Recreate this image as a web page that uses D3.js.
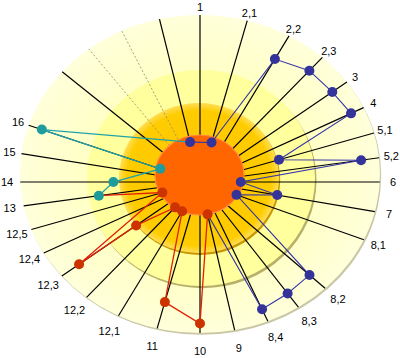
<!DOCTYPE html>
<html><head><meta charset="utf-8">
<script src="https://cdn.jsdelivr.net/npm/d3@7"></script>
<style>html,body{margin:0;padding:0;background:#fff;} svg{display:block;}</style>
</head><body><svg id="chart" width="400" height="358"></svg>
<script>
// 32 spoke positions around the disc; "" = unlabeled spoke
const axisLabels = ["1","2,1","2,2","2,3","3","4","5,1","5,2","6","7","8,1","","8,2","8,3","8,4","9",
                    "10","11","12,1","12,2","12,3","12,4","12,5","13","14","15","16","","","","",""];
const hiddenSpokes = [11, 27];
const faintSpokes = [29, 30];

// series: spoke index + value (0 = inner disc edge, 100 = outer rim)
const blueAxes   = [31, 1, 2, 3, 4, 5, 6, 7, 8, 9, 10, 12, 13, 14, 15];
const blueValues = [0, 0, 79, 86, 87, 90, 29, 87, 0, 28, 0, 84, 86, 89, 0];
const redAxes    = [15, 16, 17, 18, 19, 20, 20, 22, 23];
const redValues  = [0, 92, 77, 0, 0, 31, 84, 0, 45];
const tealAxes   = [23, 24, 26, 26, 31];
const tealValues = [45, 33, 0, 90, 0];

const svg = d3.select("#chart");
const O = {x:200, y:182};
const outerE = {cx:200, cy:174, rx:180, ry:159};
const zeroE  = {cx:200, cy:178, rx:41,  ry:37};
const labelE = {cx:200, cy:179, rx:193, ry:172};
const quadK = [0.68, 0.85, 0.68, 0.8];

const angle = d3.scaleLinear().domain([0, axisLabels.length]).range([0, 2*Math.PI]);
const rFrac = d3.scaleLinear().domain([0, 100]).range([0, 1]);

function dir(i){
  const a = angle(i);
  const q = Math.min(3, Math.floor((a + 1e-9) / (Math.PI/2)));
  const x = Math.sin(a), y = -Math.cos(a) * quadK[q];
  const n = Math.hypot(x, y);
  return {x:x/n, y:y/n};
}
function hit(e, u){
  const hx = O.x - e.cx, hy = O.y - e.cy;
  const a2 = e.rx*e.rx, b2 = e.ry*e.ry;
  const A = u.x*u.x/a2 + u.y*u.y/b2;
  const B = 2*(hx*u.x/a2 + hy*u.y/b2);
  const C = hx*hx/a2 + hy*hy/b2 - 1;
  return (-B + Math.sqrt(B*B - 4*A*C)) / (2*A);
}
function pos(i, v){
  const u = dir(i), d0 = hit(zeroE, u), d1 = hit(outerE, u);
  const d = d0 + rFrac(v) * (d1 - d0);
  return [O.x + u.x*d, O.y + u.y*d];
}

// gradients
const defs = svg.append("defs");
const gOut = defs.append("radialGradient").attr("id","gOut");
gOut.append("stop").attr("offset","60%").attr("stop-color","#FFFFC4");
gOut.append("stop").attr("offset","100%").attr("stop-color","#FFFFDA");
const gGold = defs.append("radialGradient").attr("id","gGold");
gGold.append("stop").attr("offset","0%").attr("stop-color","#FFC800");
gGold.append("stop").attr("offset","90%").attr("stop-color","#FFCC00");
gGold.append("stop").attr("offset","100%").attr("stop-color","#FFDE55");

// rings with bottom-right edge shadow
const rings = [
  {cx:200, cy:174, rx:180, ry:159, fill:"url(#gOut)", sh:"#C9C7A6", dx:1.2, dy:1.8},
  {cx:201, cy:178, rx:114, ry:108, fill:"#FFFF9E", sh:"#B7AF6A", dx:1.5, dy:2.2},
  {cx:199, cy:178, rx:80,  ry:75,  fill:"url(#gGold)", sh:"#C99500", dx:1.2, dy:2}
];
rings.forEach(r => {
  svg.append("ellipse").attr("cx", r.cx + r.dx).attr("cy", r.cy + r.dy)
     .attr("rx", r.rx).attr("ry", r.ry).attr("fill", r.sh);
  svg.append("ellipse").attr("cx", r.cx).attr("cy", r.cy)
     .attr("rx", r.rx).attr("ry", r.ry).attr("fill", r.fill);
});

// spokes
const idx = d3.range(axisLabels.length);
idx.forEach(i => {
  if (hiddenSpokes.includes(i)) return;
  const u = dir(i), d1 = hit(outerE, u);
  const faint = faintSpokes.includes(i);
  svg.append("line")
    .attr("x1", O.x).attr("y1", O.y)
    .attr("x2", O.x + u.x*d1).attr("y2", O.y + u.y*d1)
    .attr("stroke", faint ? "#8a8a70" : "#000")
    .attr("stroke-width", faint ? 0.8 : 1.2)
    .attr("stroke-dasharray", faint ? "2,2" : null);
});

// inner disc
svg.append("ellipse").attr("cx",199.5).attr("cy",175).attr("rx",44.5).attr("ry",40)
  .attr("fill","#FF6600").attr("stroke","#FF8A45").attr("stroke-width",1.2);

// series
const series = [
  {axes: blueAxes, values: blueValues, line:"#3535A8", dot:"#33339A", w:1.1},
  {axes: redAxes,  values: redValues,  line:"#E02008", dot:"#CC3300", w:1.3},
  {axes: tealAxes, values: tealValues, line:"#1FA3A8", dot:"#1E9C9C", w:1.3}
];
const line = d3.line();
series.forEach(s => {
  const pts = s.axes.map((a, k) => pos(a, s.values[k]));
  svg.append("path").attr("d", line(pts)).attr("fill","none")
    .attr("stroke", s.line).attr("stroke-width", s.w);
});
series.forEach(s => {
  const pts = s.axes.map((a, k) => pos(a, s.values[k])).slice(0, -1);
  svg.selectAll(null).data(pts).enter().append("circle")
    .attr("cx", d => d[0]).attr("cy", d => d[1]).attr("r", 5)
    .attr("fill", s.dot);
});

// labels
idx.forEach(i => {
  if (!axisLabels[i]) return;
  const u = dir(i), d = hit(labelE, u);
  svg.append("text")
    .attr("x", O.x + u.x*d).attr("y", O.y + u.y*d)
    .attr("text-anchor","middle").attr("dominant-baseline","central")
    .attr("font-family","'Liberation Sans', Arial, sans-serif")
    .attr("font-size", 11).attr("fill","#000")
    .text(axisLabels[i]);
});
</script></body></html>
